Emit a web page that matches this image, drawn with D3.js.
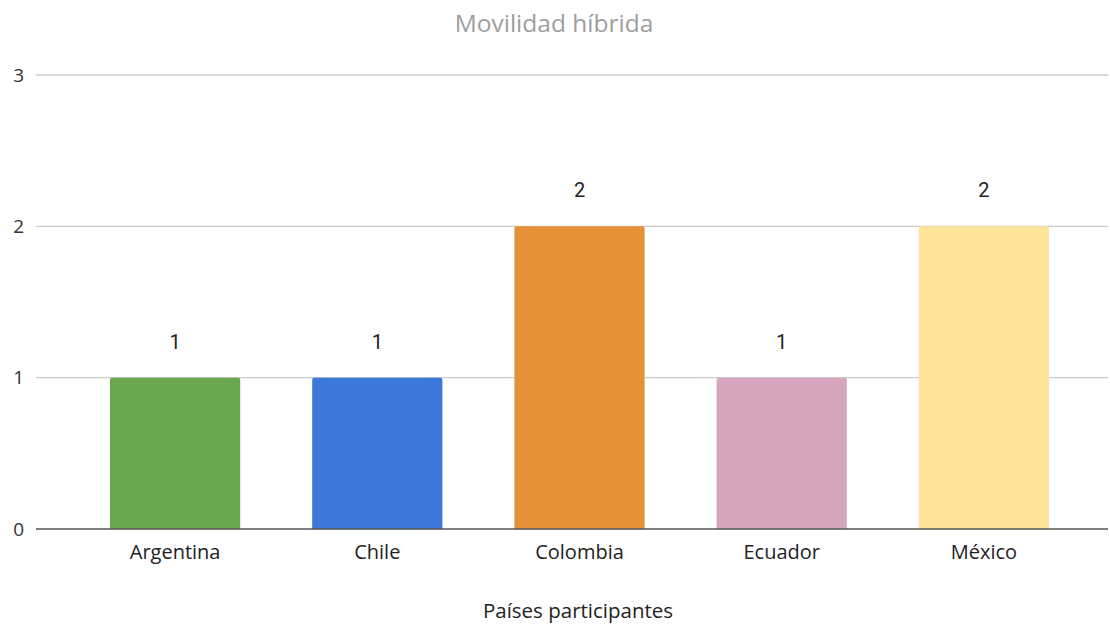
<!DOCTYPE html>
<html><head><meta charset="utf-8">
<script src="https://cdn.jsdelivr.net/npm/d3@7"></script>
<style>body{margin:0;background:#fff}</style>
</head><body>
<svg id="chart" width="1110" height="625"></svg>
<script>
const categories = ["Argentina", "Chile", "Colombia", "Ecuador", "México"];
const values = [1, 1, 2, 1, 2];
const colors = ["#6aa84f", "#3c78d8", "#e69138", "#d5a6bd", "#ffe599"];
const yTicks = [0, 1, 2, 3];
const title = "Movilidad híbrida";
const xTitle = "Países participantes";

const svg = d3.select("#chart");
const font = "'Open Sans', sans-serif";

const x = d3.scaleBand().domain(categories).range([74, 1085]).paddingInner(0.356).paddingOuter(0.178);
const y = d3.scaleLinear().domain([0, 3]).range([529, 75]);

// gridlines
svg.append("g").selectAll("line").data(yTicks.filter(d => d > 0)).join("line")
  .attr("x1", 36).attr("x2", 1108)
  .attr("y1", d => y(d)).attr("y2", d => y(d))
  .attr("stroke", "#cccccc").attr("stroke-width", 1.3);

// y axis labels
const yAxis = d3.axisLeft(y).tickValues(yTicks).tickFormat(d3.format("d")).tickSize(0).tickPadding(0);
const gy = svg.append("g").attr("transform", "translate(24,0)").call(yAxis);
gy.select(".domain").remove();
gy.selectAll("text").attr("font-family", font).attr("font-size", 19).attr("fill", "#333");

// bars
svg.append("g").selectAll("path").data(categories).join("path")
  .attr("d", (d, i) => {
    const x0 = x(d), w = x.bandwidth(), y0 = y(values[i]), yb = y(0), r = 2;
    return `M${x0},${yb}V${y0 + r}Q${x0},${y0} ${x0 + r},${y0}H${x0 + w - r}Q${x0 + w},${y0} ${x0 + w},${y0 + r}V${yb}Z`;
  })
  .attr("fill", (d, i) => colors[i]);

// baseline
svg.append("line").attr("x1", 36).attr("x2", 1108).attr("y1", y(0)).attr("y2", y(0))
  .attr("stroke", "#555").attr("stroke-width", 1.3);

// value labels
svg.append("g").selectAll("text").data(categories).join("text")
  .attr("x", d => x(d) + x.bandwidth() / 2)
  .attr("y", (d, i) => y(values[i]) - 29)
  .attr("text-anchor", "middle")
  .attr("font-family", "Roboto, Arial, sans-serif").attr("font-size", 20).attr("fill", "#222")
  .text((d, i) => values[i]);

// x axis labels
const xAxis = d3.axisBottom(x).tickSize(0).tickPadding(0);
const gx = svg.append("g").attr("transform", "translate(0,559)").call(xAxis);
gx.select(".domain").remove();
gx.selectAll("text").attr("dy", 0).attr("font-family", font).attr("font-size", 20).attr("fill", "#222");

// axis title
svg.append("text").attr("x", 578).attr("y", 618).attr("text-anchor", "middle")
  .attr("font-family", font).attr("font-size", 20.5).attr("fill", "#222").text(xTitle);

// chart title
svg.append("text").attr("x", 554).attr("y", 32).attr("text-anchor", "middle")
  .attr("font-family", font).attr("font-size", 24.5).attr("fill", "#9e9e9e").text(title);
</script>
</body></html>
